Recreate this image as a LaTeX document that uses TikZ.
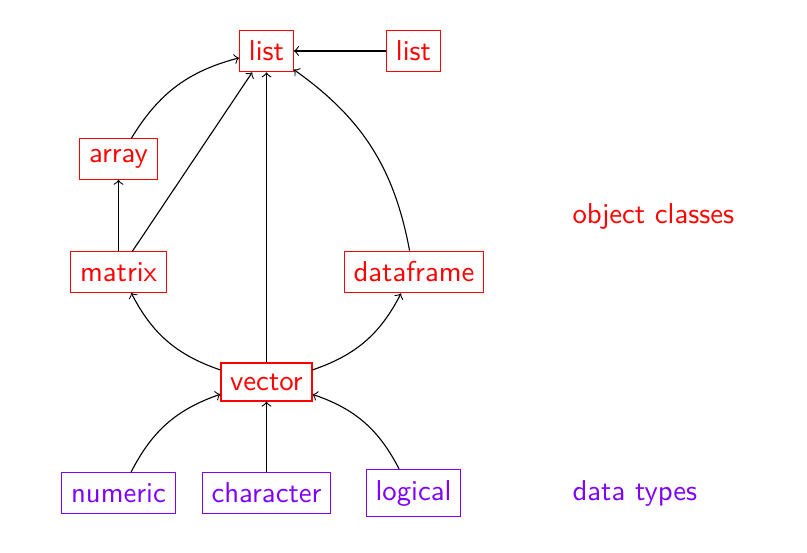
\documentclass[tikz,border=0pt]{standalone}
\usetikzlibrary{arrows}
\definecolor{vio}{RGB}{127,0,255}
\begin{document}
\begin{tikzpicture}[x=0.3585pt,y=-0.3585pt,
  every node/.style={font=\fontsize{10.3pt}{12pt}\sffamily},
  cls/.style={draw=red,text=red,inner xsep=3.3pt,inner ysep=3.8pt},
  dtype/.style={draw=vio,text=vio,inner xsep=3.3pt,inner ysep=3.8pt},
  lbl/.style={anchor=west,inner sep=0pt},
  conn/.style={->}]
\useasboundingbox (0,0) rectangle (807,553);
\node[cls] (list) at (266.5,51) {list};
\node[cls] (list2) at (413.5,51) {list};
\node[cls] (array) at (118.5,159) {array};
\node[cls] (matrix) at (118.5,272) {matrix};
\node[cls] (df) at (414,272) {dataframe};
\node[cls] (vector) at (266.5,382) {vector};
\node[dtype] (numeric) at (118.5,493) {numeric};
\node[dtype] (character) at (266.5,493) {character};
\node[dtype] (logical) at (413.5,493) {logical};
\node[lbl,text=red] (oc) at (572,216) {object classes};
\node[lbl,text=vio] (dt) at (572,493) {data types};
\draw[conn] (list2) -- (list);
\draw[conn] (array) to[bend left=22] (list);
\draw[conn] (matrix) -- (array);
\draw[conn] (matrix) -- (list);
\draw[conn] (vector) -- (list);
\draw[conn] (df) to[bend right=22] (list);
\draw[conn] (vector) to[bend left=22] (matrix);
\draw[conn] (vector) to[bend right=22] (df);
\draw[conn] (numeric) to[bend left=22] (vector);
\draw[conn] (character) -- (vector);
\draw[conn] (logical) to[bend right=22] (vector);
\end{tikzpicture}
\end{document}
